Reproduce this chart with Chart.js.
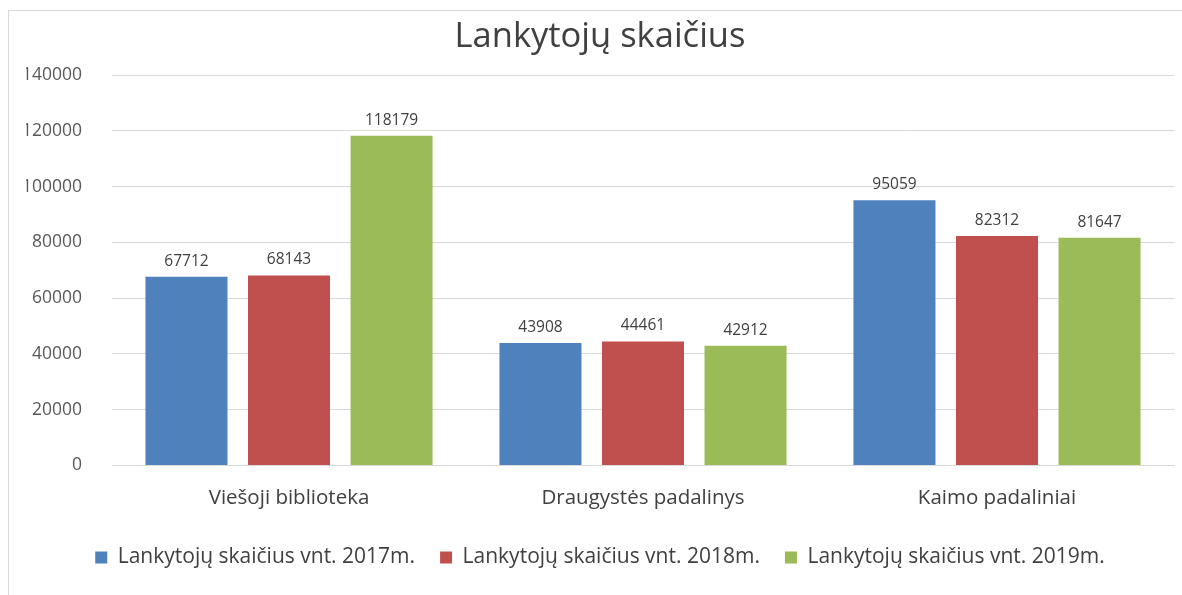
<!DOCTYPE html>
<html>
<head>
<meta charset="utf-8">
<script src="https://cdn.jsdelivr.net/npm/chart.js@4/dist/chart.umd.min.js"></script>
<style>
  html, body { margin: 0; padding: 0; background: #fff; overflow: hidden; }
  #frame { position: absolute; left: 8px; top: 10px; width: 1200px; height: 620px; border: 1px solid #d9d9d9; box-sizing: border-box; }
  #wrap { position: absolute; left: 0; top: 0; width: 1182px; height: 595px; }
</style>
</head>
<body>
<div id="frame"></div>
<div id="wrap"><canvas id="c"></canvas></div>
<script>
const categories = ["Viešoji biblioteka", "Draugystės padalinys", "Kaimo padaliniai"];
const seriesNames = ["Lankytojų skaičius vnt. 2017m.", "Lankytojų skaičius vnt. 2018m.", "Lankytojų skaičius vnt. 2019m."];
const values2017 = [67712, 43908, 95059];
const values2018 = [68143, 44461, 82312];
const values2019 = [118179, 42912, 81647];
const colors = ["#4F81BD", "#C0504D", "#9BBB59"];
const titleText = "Lankytojų skaičius";

const FONT = "'Open Sans', 'Segoe UI', sans-serif";

const valueLabels = {
  id: 'valueLabels',
  afterDatasetsDraw(chart) {
    const ctx = chart.ctx;
    ctx.save();
    ctx.font = "15.5px " + FONT;
    ctx.fillStyle = "#404040";
    ctx.textAlign = "center";
    ctx.textBaseline = "alphabetic";
    chart.data.datasets.forEach((ds, i) => {
      const meta = chart.getDatasetMeta(i);
      meta.data.forEach((bar, j) => {
        ctx.fillText(String(ds.data[j]), bar.x, bar.y - 11);
      });
    });
    ctx.restore();
  }
};

new Chart(document.getElementById('c'), {
  type: 'bar',
  data: {
    labels: categories,
    datasets: [
      { label: seriesNames[0], data: values2017, backgroundColor: colors[0] },
      { label: seriesNames[1], data: values2018, backgroundColor: colors[1] },
      { label: seriesNames[2], data: values2019, backgroundColor: colors[2] }
    ]
  },
  options: {
    responsive: true,
    maintainAspectRatio: false,
    animation: false,
    layout: { padding: { left: 26, right: 8, top: 0, bottom: 17 } },
    datasets: { bar: { categoryPercentage: 0.869, barPercentage: 0.8 } },
    plugins: {
      title: {
        display: true,
        text: titleText,
        color: "#404040",
        font: { family: FONT, size: 34.5, weight: 'normal', lineHeight: 1.2 },
        padding: { top: 16, bottom: 17.6 }
      },
      legend: {
        position: 'bottom',
        labels: {
          color: "#404040",
          font: { family: FONT, size: 21 },
          boxWidth: 12,
          boxHeight: 12,
          padding: 25
        }
      },
      tooltip: { enabled: false }
    },
    scales: {
      x: {
        afterFit(scale) { scale.height = 56.5; },
        grid: { display: false, drawTicks: false },
        border: { display: true, color: "#d9d9d9" },
        ticks: { color: "#404040", font: { family: FONT, size: 20.5 }, padding: 20.5 }
      },
      y: {
        min: 0, max: 140000,
        afterFit(scale) { scale.width = 86; },
        grid: { color: "#d9d9d9", drawTicks: false },
        border: { display: false },
        ticks: {
          stepSize: 20000,
          color: "#595959",
          font: { family: FONT, size: 17.5 },
          padding: 30,
          callback: v => String(v)
        }
      }
    }
  },
  plugins: [valueLabels]
});
</script>
</body>
</html>
